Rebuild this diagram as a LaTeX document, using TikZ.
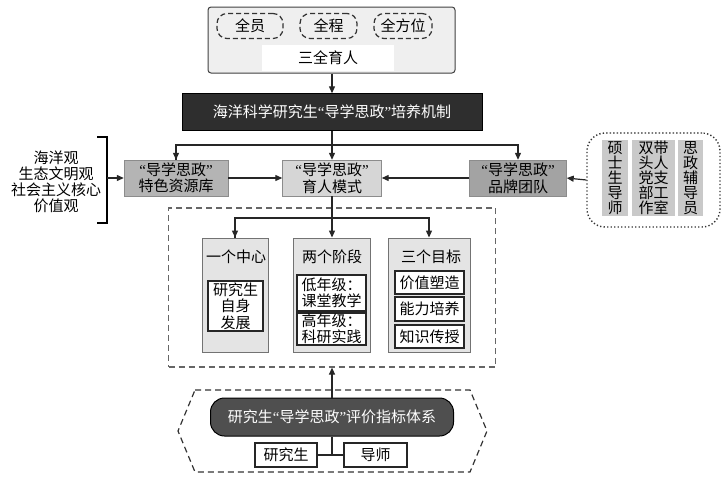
\documentclass[tikz,border=0pt]{standalone}
\usepackage{fontspec}
\newfontfamily\cjk{Noto Sans CJK SC}
\newfontfamily\qfont{Liberation Serif}
\newcommand{\lqm}{{\qfont\char"201C}}
\newcommand{\rqm}{{\qfont\char"201D}}
\usetikzlibrary{arrows.meta,calc}
\definecolor{darkbox}{HTML}{2E2E2E}
\definecolor{evalbox}{HTML}{4F4F4F}
\definecolor{resfill}{HTML}{B4B4B4}
\definecolor{modefill}{HTML}{D6D6D6}
\definecolor{brandfill}{HTML}{A3A3A3}
\definecolor{colfill}{HTML}{C9C9C9}
\definecolor{panelfill}{HTML}{E4E4E4}
\definecolor{topfill}{HTML}{EFEFEF}
\begin{document}
\begin{tikzpicture}[x=1pt,y=-1pt,
  font=\cjk\fontsize{15}{16.5}\selectfont,
  arr/.style={-{Triangle[length=7pt,width=6pt]}, line width=1.2pt, draw=black!85},
  ln/.style={line width=1.2pt, draw=black!85},
  bx/.style={inner sep=0pt, align=center},
  oval/.style={bx, draw=black!80, dashed, dash pattern=on 5pt off 3pt, line width=1.2pt, rounded corners=10pt, minimum height=25pt},
  graybox/.style={bx, draw=black!45, minimum height=36pt},
  panel/.style={bx, draw=black!55, line width=0.9pt, fill=panelfill, minimum height=114pt},
  inner/.style={bx, draw=black!85, line width=1.3pt, fill=white},
  col/.style={bx, fill=colfill, minimum height=76pt, font=\cjk\fontsize{15}{15}\selectfont},
]
\useasboundingbox (0,0) rectangle (723,477);

% top
\node[bx, draw=black!75, fill=topfill, rounded corners=3pt, line width=1pt, minimum width=247pt, minimum height=66pt] (top) at (331.5,40) {};
\node[oval, minimum width=66pt] (o1) at (250,26) {全员};
\node[oval, minimum width=57pt] (o2) at (328.5,26) {全程};
\node[oval, minimum width=58pt] (o3) at (403,26) {全方位};
\node[bx, fill=white, minimum width=132pt, minimum height=26pt] (sq) at (328,58) {三全育人};

\node[bx, fill=darkbox, draw=black, text=white, minimum width=300pt, minimum height=37pt] (mech) at (332,112) {海洋科学研究生\lqm 导学思政\rqm 培养机制};
\draw[arr] (top.south -| mech.north) -- (mech.north);

% middle row
\node[graybox, fill=resfill, minimum width=104pt] (res) at (176,178) {\lqm 导学思政\rqm\\特色资源库};
\node[graybox, fill=modefill, minimum width=99pt] (mode) at (332,178) {\lqm 导学思政\rqm\\育人模式};
\node[graybox, fill=brandfill, minimum width=97pt] (brand) at (518,178) {\lqm 导学思政\rqm\\品牌团队};

\coordinate (hl) at (332,145);
\draw[arr] (mech.south) -- (mode.north);
\draw[ln] (hl) -| (res.north) coordinate[pos=0.5] (hlL);
\draw[arr] (hlL) -- (res.north);
\draw[arr] (hl) -| (brand.north);

\draw[arr] (res.east) -- (mode.west);
\draw[arr] (brand.west) -- (mode.east);

% left values
\node[bx, font=\cjk\fontsize{15}{16}\selectfont] (vals) at (56,182) {海洋观\\生态文明观\\社会主义核心\\价值观};
\coordinate (brk) at (107,178);
\draw[line width=1.2pt] (97,137) -- (107,137) -- (107,223) -- (97,223);
\draw[arr] (brk) -- (res.west);

% right team
\node[bx, draw=black!80, dash pattern=on 1.3pt off 2.2pt, line width=1.4pt, rounded corners=18pt, minimum width=133pt, minimum height=94pt] (team) at (653.5,180) {};
\node[col, minimum width=26pt] (c1t) at (615,178) {硕\\士\\生\\导\\师};
\node[col, minimum width=43pt] (c2t) at (653.5,178) {双带\\头人\\党支\\部工\\作室};
\node[col, minimum width=25pt] (c3t) at (690.5,178) {思\\政\\辅\\导\\员};
\draw[arr] (team.west) -- (brand.east);

% dashed region
\node[bx, draw=black!60, dashed, dash pattern=on 6pt off 4pt, line width=1.2pt, minimum width=327pt, minimum height=159pt] (big) at (332,287.5) {};

\node[panel, minimum width=66pt] (p1) at (235,295) {};
\node[panel, minimum width=77pt] (p2) at (332,295) {};
\node[panel, minimum width=82pt] (p3) at (429,295) {};
\coordinate (br) at (332,218);
\draw[ln] (mode.south) -- (br);
\draw[arr] (br) -- (p2.north);
\draw[ln] (br) -| (p1.north) coordinate[pos=0.5] (brL);
\draw[arr] (brL) -- (p1.north);
\draw[arr] (br) -| (p3.north);

\node[bx] (t1) at (236,257) {一个中心};
\node[bx] (t2) at (332,257) {两个阶段};
\node[bx] (t3) at (431,257) {三个目标};

\node[inner, minimum width=55pt, minimum height=50pt] (i1) at (235.5,306) {研究生\\自身\\发展};
\node[inner, minimum width=69pt, minimum height=36pt] (i2a) at (331.5,293) {低年级：\\课堂教学};
\node[inner, minimum width=69pt, minimum height=32pt] (i2b) at (331.5,329) {高年级：\\科研实践};
\node[inner, minimum width=69pt, minimum height=23pt] (i3a) at (429.5,282.5) {价值塑造};
\node[inner, minimum width=69pt, minimum height=24pt] (i3b) at (429.5,309) {能力培养};
\node[inner, minimum width=69pt, minimum height=23pt] (i3c) at (429.5,336.5) {知识传授};

% bottom
\draw[black!80, dashed, dash pattern=on 6pt off 4pt, line width=1.2pt] (195,390) -- (470,390) -- (487,431) -- (470,472) -- (195,472) -- (178,431) -- cycle;
\node[bx, fill=evalbox, draw=black, line width=1pt, text=white, rounded corners=14pt, minimum width=243pt, minimum height=38pt] (eval) at (332,417) {研究生\lqm 导学思政\rqm 评价指标体系};
\draw[arr] (eval.north) -- (big.south);
\node[bx, draw=black!85, line width=1.1pt, minimum width=62pt, minimum height=24pt] (stu) at (286,455) {研究生};
\node[bx, draw=black!85, line width=1.1pt, minimum width=63pt, minimum height=24pt] (tut) at (375.5,455) {导师};
\draw[ln] (stu.east) -- (tut.west);
\draw[ln] (eval.south) -- (eval.south |- stu.east);
\end{tikzpicture}
\end{document}
